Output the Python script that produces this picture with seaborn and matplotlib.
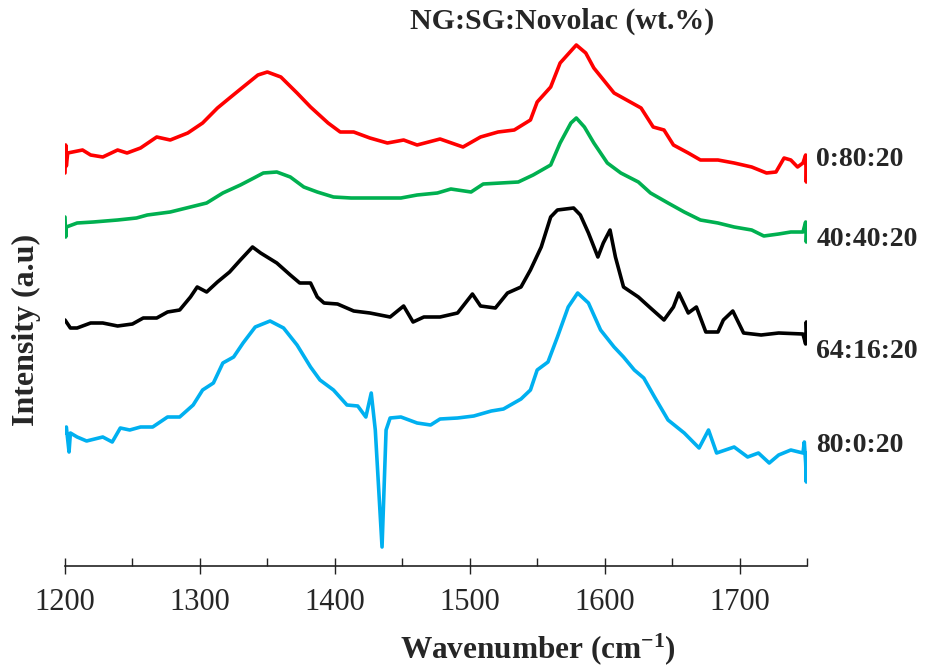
import matplotlib
matplotlib.use("Agg")
import matplotlib.pyplot as plt
from matplotlib.ticker import MultipleLocator
import seaborn as sns
import pandas as pd

# ---- data (stacked Raman spectra, arbitrary intensity units incl. vertical offset) ----
series_names = ["0:80:20", "40:40:20", "64:16:20", "80:0:20"]
series_colors = ["#FF0000", "#00B050", "#000000", "#00B0F0"]

wn_red = [1200, 1200.5, 1201, 1202, 1213, 1219, 1228, 1239, 1246, 1256, 1268, 1278, 1291, 1302,
          1313, 1322, 1332, 1343, 1350, 1360, 1372, 1382, 1395, 1404, 1414, 1426, 1439, 1451,
          1461, 1478, 1495, 1508, 1521, 1533, 1545, 1550, 1560, 1567, 1579, 1586, 1592, 1607,
          1619, 1627, 1636, 1644, 1651, 1662, 1671, 1684, 1696, 1709, 1720, 1727, 1733, 1738,
          1743, 1747, 1749, 1749.5, 1750]
int_red = [393, 421, 400, 413, 416, 411, 409, 416, 413, 418, 429, 426, 433, 443,
           458, 468, 479, 491, 494, 489, 473, 459, 443, 434, 434, 428, 423, 426,
           421, 427, 419, 429, 434, 436, 446, 464, 479, 503, 521, 513, 498, 473,
           464, 458, 439, 436, 421, 413, 406, 406, 403, 399, 393, 394, 408, 406,
           399, 403, 411, 384, 404]

wn_green = [1200, 1200.5, 1201, 1209, 1221, 1239, 1253, 1261, 1278, 1293, 1305, 1317, 1330, 1340,
            1347, 1357, 1367, 1377, 1387, 1399, 1412, 1436, 1449, 1461, 1476, 1486, 1501, 1510,
            1536, 1547, 1560, 1567, 1575, 1579, 1585, 1592, 1602, 1612, 1625, 1634, 1647, 1659,
            1671, 1684, 1696, 1709, 1718, 1729, 1738, 1747, 1749, 1749.5, 1750]
int_green = [349, 329, 339, 343, 344, 346, 348, 351, 354, 359, 363, 373, 381, 388,
             393, 394, 389, 379, 374, 369, 368, 368, 368, 371, 373, 377, 374, 382,
             384, 391, 401, 423, 443, 448, 439, 423, 403, 393, 384, 373, 363, 354,
             346, 343, 339, 336, 330, 332, 334, 334, 344, 324, 334]

wn_black = [1200, 1204, 1209, 1219, 1228, 1239, 1250, 1258, 1268, 1276, 1285, 1293, 1298, 1305,
            1313, 1322, 1330, 1339, 1345, 1357, 1367, 1374, 1382, 1387, 1392, 1402, 1414, 1426,
            1441, 1451, 1458, 1466, 1478, 1491, 1502, 1508, 1519, 1528, 1538, 1545, 1553, 1560,
            1565, 1577, 1582, 1588, 1595, 1599, 1604, 1608, 1614, 1625, 1634, 1644, 1651, 1655,
            1662, 1668, 1675, 1684, 1688, 1695, 1703, 1716, 1729, 1747, 1749, 1749.5, 1750]
int_black = [246, 238, 238, 243, 243, 240, 242, 248, 248, 254, 256, 269, 279, 274,
             284, 294, 306, 319, 313, 303, 291, 283, 283, 269, 263, 262, 255, 253,
             249, 260, 244, 249, 249, 253, 272, 260, 258, 273, 279, 296, 319, 349,
             356, 358, 351, 333, 309, 323, 336, 309, 279, 269, 258, 246, 259, 273,
             253, 259, 234, 234, 246, 255, 233, 231, 233, 232, 222, 244, 232]

wn_blue = [1200, 1201, 1203, 1204, 1209, 1216, 1228, 1235, 1241, 1248, 1256, 1265, 1276, 1285,
           1295, 1302, 1310, 1317, 1325, 1332, 1341, 1352, 1362, 1372, 1382, 1389, 1399, 1409,
           1417, 1423, 1427, 1430, 1435, 1438, 1441, 1449, 1461, 1471, 1478, 1491, 1503, 1516,
           1525, 1538, 1545, 1550, 1558, 1565, 1573, 1580, 1588, 1597, 1607, 1614, 1622, 1629,
           1637, 1647, 1659, 1670, 1677, 1683, 1696, 1706, 1714, 1722, 1729, 1738, 1747, 1748,
           1749, 1749.5, 1750]
int_blue = [133, 139, 114, 133, 129, 125, 129, 124, 138, 136, 139, 139, 149, 149,
            161, 176, 183, 203, 209, 223, 239, 245, 238, 221, 199, 186, 176, 161,
            160, 149, 173, 136, 19, 136, 148, 149, 143, 141, 147, 148, 150, 155,
            157, 167, 176, 196, 204, 229, 259, 273, 263, 236, 219, 209, 196, 188,
            169, 146, 133, 118, 136, 113, 119, 109, 113, 103, 111, 116, 113, 124,
            103, 84, 113]

x_ticks = [1200, 1300, 1400, 1500, 1600, 1700]
label_y = [406, 326, 214, 120]   # vertical placement of the series labels (intensity units)

# ---- build long-form table ----
frames = []
for name, wn, it in zip(series_names,
                        [wn_red, wn_green, wn_black, wn_blue],
                        [int_red, int_green, int_black, int_blue]):
    frames.append(pd.DataFrame({"Wavenumber": wn, "Intensity": it, "Sample": name}))
df = pd.concat(frames, ignore_index=True)

sns.set_style("white")
plt.rcParams["font.family"] = ["Liberation Serif", "DejaVu Serif"]
plt.rcParams["mathtext.fontset"] = "custom"
plt.rcParams["mathtext.rm"] = "Liberation Serif:bold"
plt.rcParams["mathtext.bf"] = "Liberation Serif:bold"
plt.rcParams["mathtext.default"] = "bf"

fig = plt.figure(figsize=(9.37, 6.67), dpi=100)
ax = fig.add_axes([65 / 937, 1 - 566 / 667, (807 - 65) / 937, 566 / 667])

sns.lineplot(data=df, x="Wavenumber", y="Intensity", hue="Sample",
             palette=dict(zip(series_names, series_colors)),
             estimator=None, sort=False, linewidth=2.6, legend=False, ax=ax)

ax.set_xlim(1200, 1750)
ax.set_ylim(0, 566)
ax.set_xticks(x_ticks)
ax.xaxis.set_minor_locator(MultipleLocator(50))
ax.set_yticks([])
for s in ["left", "top", "right"]:
    ax.spines[s].set_visible(False)
ax.spines["bottom"].set_color("#222222")
ax.spines["bottom"].set_linewidth(1.2)
ax.tick_params(axis="x", which="both", bottom=True)
ax.tick_params(axis="x", which="major", direction="inout", length=11, width=1.0,
               color="#222222", labelsize=22, pad=10)
ax.tick_params(axis="x", which="minor", direction="in", length=6, width=1.0, color="#222222")
ax.set_xlabel("")
ax.set_ylabel("")

for name, yv in zip(series_names, label_y):
    ax.text(1757, yv, name, fontsize=20, fontweight="bold", ha="left", va="center",
            clip_on=False)

fig.text(562 / 937, 1 - 21 / 667, "NG:SG:Novolac (wt.%)", fontsize=21.5, fontweight="bold",
         ha="center", va="center")
fig.text(538 / 937, 1 - 649 / 667, "Wavenumber (cm$^{-1}$)", fontsize=22.5, fontweight="bold",
         ha="center", va="center")
fig.text(26 / 937, 1 - 330 / 667, "Intensity (a.u)", fontsize=23, fontweight="bold",
         ha="center", va="center", rotation=90)

fig.savefig("out.png", dpi=100)
